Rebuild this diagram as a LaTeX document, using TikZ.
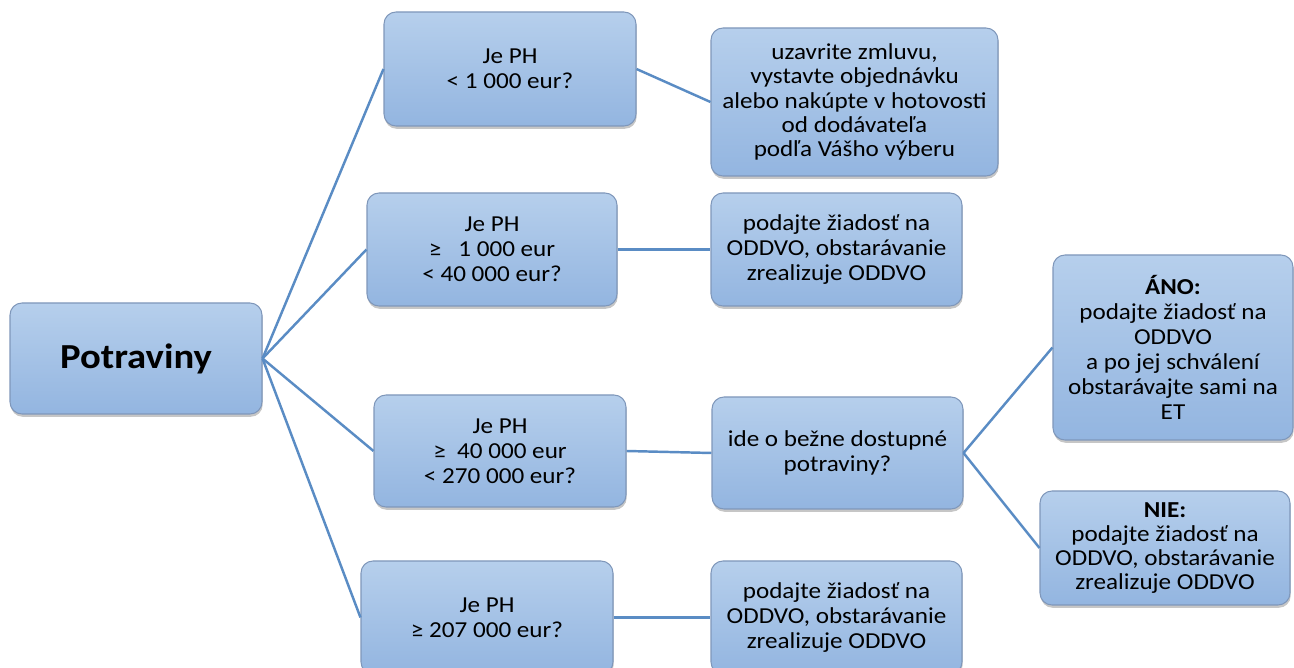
\documentclass[tikz,border=0pt]{standalone}
\usepackage{fontspec}
\setmainfont[FakeStretch=1.1]{Carlito}
\usetikzlibrary{shadows}
\definecolor{boxtop}{HTML}{B6CFEC}
\definecolor{boxbottom}{HTML}{93B5E0}
\definecolor{boxline}{HTML}{7F97BA}
\definecolor{linkcol}{HTML}{5A8CC4}

\begin{document}
\begin{tikzpicture}
    \tikzset{box/.style = {shape=rectangle,rounded corners=0.24cm,draw=boxline,line width=0.6pt,
        top color=boxtop,bottom color=boxbottom,align=center,inner sep=2pt,
        font=\fontsize{13}{14.2}\selectfont,
        drop shadow={opacity=0.45,shadow xshift=0.4pt,shadow yshift=-1.6pt}}}
    \tikzset{link/.style = {draw=linkcol,line width=1.4pt}}
    \clip (0,0) rectangle (25.88,13.36);
    % vertices
    \node[box,minimum width=5.04cm,minimum height=2.22cm,font=\fontsize{20}{24}\selectfont\bfseries] (root) at (2.72,6.19) {Potraviny};

    \node[box,minimum width=5.04cm,minimum height=2.28cm] (q1) at (10.20,11.98) {Je PH\\ {<} 1 000 eur?};
    \node[box,minimum width=5.00cm,minimum height=2.26cm] (q2) at (9.84,8.37) {Je PH\\ ≥\ \ \ 1 000 eur\\ {<} 40 000 eur?};
    \node[box,minimum width=5.04cm,minimum height=2.24cm] (q3) at (10.00,4.34) {Je PH\\ ≥\ \ 40 000 eur\\ {<} 270 000 eur?};
    \node[box,minimum width=5.04cm,minimum height=2.26cm] (q4) at (9.74,1.01) {Je PH\\ ≥ 207 000 eur?};

    \node[box,minimum width=5.74cm,minimum height=2.96cm,font=\fontsize{13}{13.8}\selectfont] (a1) at (17.09,11.32) {uzavrite zmluvu,\\ vystavte objednávku\\ alebo nakúpte v hotovosti\\ od dodávateľa\\ podľa Vášho výberu};
    \node[box,minimum width=5.02cm,minimum height=2.26cm] (a2) at (16.73,8.37) {podajte žiadosť na\\ ODDVO, obstarávanie\\ zrealizuje ODDVO};
    \node[box,minimum width=5.02cm,minimum height=2.24cm] (a3) at (16.75,4.30) {ide o bežne dostupné\\ potraviny?};
    \node[box,minimum width=5.02cm,minimum height=2.26cm] (a4) at (16.73,1.01) {podajte žiadosť na\\ ODDVO, obstarávanie\\ zrealizuje ODDVO};

    \node[box,minimum width=4.80cm,minimum height=3.70cm,font=\fontsize{13}{14.2}\selectfont] (yes) at (23.46,6.41) {\textbf{ÁNO:}\\ podajte žiadosť na\\ ODDVO\\ a po jej schválení\\ obstarávajte sami na\\ ET};
    \node[box,minimum width=5.00cm,minimum height=2.28cm,font=\fontsize{13}{13.8}\selectfont] (no) at (23.30,2.40) {\textbf{NIE:}\\ podajte žiadosť na\\ ODDVO, obstarávanie\\ zrealizuje ODDVO};
    %edges
    \path[link] (root.east) -- (q1.west);
    \path[link] (root.east) -- (q2.west);
    \path[link] (root.east) -- (q3.west);
    \path[link] (root.east) -- (q4.west);

    \path[link] (q1.east) -- (a1.west);
    \path[link] (q2.east) -- (a2.west);
    \path[link] (q3.east) -- (a3.west);
    \path[link] (q4.east) -- (a4.west);

    \path[link] (a3.east) -- (yes.west);
    \path[link] (a3.east) -- (no.west);
\end{tikzpicture}
\end{document}
